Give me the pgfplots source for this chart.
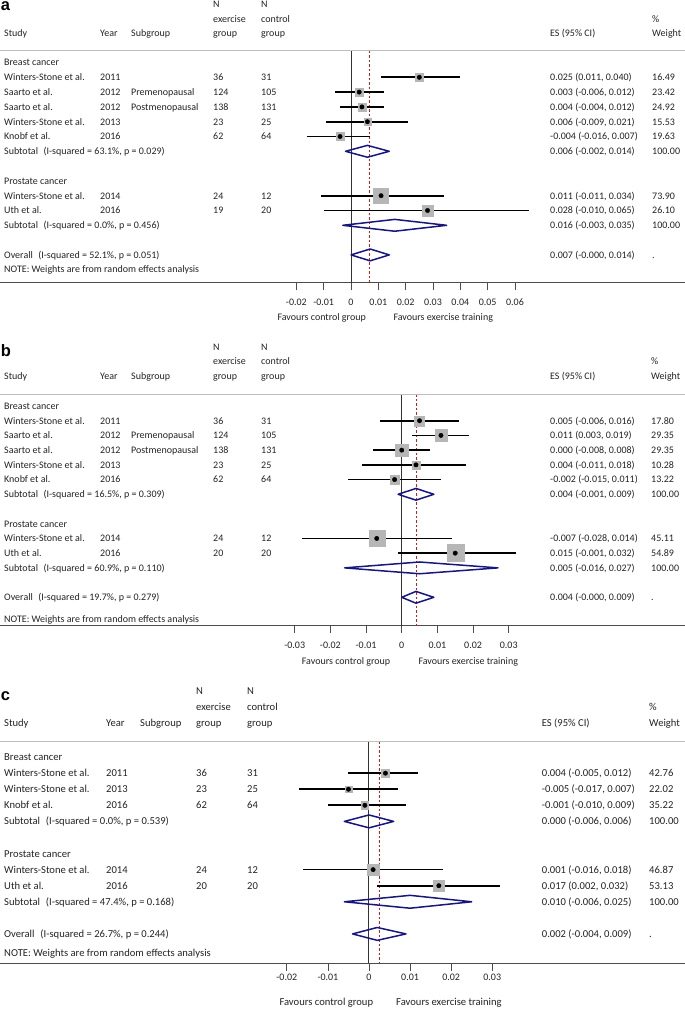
\documentclass[border=0pt]{standalone}
\usepackage{fontspec}
\setmainfont{Carlito}
\newfontfamily\labfont{Liberation Sans}
\usepackage{pgfplots}
\usepackage{pgfplotstable}
\pgfplotsset{compat=1.18}
\definecolor{boxgray}{RGB}{182,182,182}
\definecolor{dnavy}{RGB}{22,22,125}
\definecolor{dred}{RGB}{200,30,30}
\definecolor{txt}{RGB}{35,35,35}

% ---------- data: panel a ----------
\pgfplotstableread{
row est lo hi box
1 0.025 0.011 0.040 7.3
2 0.003 -0.006 0.012 7.7
3 0.004 -0.004 0.012 7.7
4 0.006 -0.009 0.021 7
5 -0.004 -0.016 0.007 8
9 0.011 -0.011 0.034 15
10 0.028 -0.010 0.065 10.5
}\studA
% ---------- data: panel b ----------
\pgfplotstableread{
row est lo hi box
1 0.005 -0.006 0.016 10
2 0.011 0.003 0.019 12
3 0.000 -0.008 0.008 12.5
4 0.004 -0.011 0.018 8
5 -0.002 -0.015 0.011 9
9 -0.007 -0.028 0.014 16
10 0.015 -0.001 0.032 17
}\studB
% ---------- data: panel c ----------
\pgfplotstableread{
row est lo hi box
1 0.004 -0.005 0.012 8.5
2 -0.005 -0.017 0.007 6.5
3 -0.001 -0.010 0.009 7.5
7 0.001 -0.016 0.018 11.5
8 0.017 0.002 0.032 11
}\studC

\pgfplotsset{
  forest/.style={
    scale only axis, width=685pt, anchor=north west, clip=false,
    axis x line=bottom, axis y line=none,
    axis line style={-, line width=1pt, draw=black!70},
    ytick=\empty, scaled x ticks=false,
    tick align=outside, major tick length=7.5pt,
    tick style={black!70, line width=0.8pt},
    xticklabel style={font=\fontsize{10}{12}\selectfont, text=txt, anchor=base},
  },
  boxes/.style={scatter, only marks, mark=square*,
    scatter/use mapped color={draw=boxgray, fill=boxgray},
    visualization depends on={\thisrow{box}/2 \as \hs},
    scatter/@pre marker code/.append style={/tikz/mark size=\hs}},
  cis/.style={black, line width=1.7pt, -, mark=none,
    quiver={u=\thisrow{hi}-\thisrow{lo}, v=0}},
  dots/.style={black, only marks, mark=*, mark size=2.2pt},
  dia/.style={dnavy, line width=1.5pt, line join=round, line cap=round, mark=none},
  zeroline/.style={black!80, line width=1pt, mark=none},
  redline/.style={dred, line width=1pt, dash pattern=on 2.5pt off 2pt, mark=none},
}

\newcommand{\Row}[8]{%
  \node[T] at (\cS,-#1) {#2};%
  \node[T] at (\cY,-#1) {#3};%
  \node[T] at (\cG,-#1) {#4};%
  \node[T] at (\cE,-#1) {#5};%
  \node[T] at (\cC,-#1) {#6};%
  \node[T] at (\cES,-#1) {#7};%
  \node[T] at (\cW,-#1) {#8};}
\newcommand{\Sub}[4]{%
  \node[T] at (\cS,-#1) {#2};%
  \node[T] at (\cES,-#1) {#3};%
  \node[T] at (\cW,-#1) {#4};}
\newcommand{\Head}[3]{%
  \node[T] at (\cE,-#1) {N};\node[T] at (\cC,-#1) {N};%
  \node[T] at (\cE,-#2) {exercise};\node[T] at (\cC,-#2) {control};\node[T] at (\cW,-#2) {\%};%
  \node[T] at (\cS,-#3) {Study};\node[T] at (\cY,-#3) {Year};\node[T] at (\cG,-#3) {Subgroup};%
  \node[T] at (\cE,-#3) {group};\node[T] at (\cC,-#3) {group};%
  \node[T] at (\cES,-#3) {ES (95\% CI)};\node[T] at (\cW,-#3) {Weight};}
\newcommand{\SubT}[3]{Subtotal\hspace{0.55em}(I-squared = #1\%, p = #2)}

\begin{document}
\begin{tikzpicture}[x=1pt,y=1pt,
  T/.style={anchor=base west, inner sep=0pt, text=txt, font=\fontsize{\fs}{12}\selectfont}]
\useasboundingbox (0,0) rectangle (685,-1009);

% ================= PANEL A =================
\begin{axis}[forest, at={(0pt,-50.5pt)}, height=232.2pt,
  xmin=-0.12843, xmax=0.12221, ymin=-14.878, ymax=0.8108,
  xtick={-0.02,-0.01,0,0.01,0.02,0.03,0.04,0.05,0.06},
  xticklabels={-0.02,-0.01,0,0.01,0.02,0.03,0.04,0.05,0.06},
  xticklabel style={yshift=-14.8pt}]
\addplot[zeroline] coordinates {(0,0.8108) (0,-14.878)};
\addplot[redline] coordinates {(0.0069,0.8108) (0.0069,-14.878)};
\addplot[boxes] table[x=est, y expr=-\thisrow{row}] {\studA};
\addplot[cis] table[x=lo, y expr=-\thisrow{row}] {\studA};
\addplot[dots] table[x=est, y expr=-\thisrow{row}] {\studA};
\addplot[dia] coordinates {(-0.002,-6) (0.006,-5.6) (0.014,-6) (0.006,-6.4) (-0.002,-6)};
\addplot[dia] coordinates {(-0.003,-11) (0.016,-10.6) (0.035,-11) (0.016,-11.4) (-0.003,-11)};
\addplot[dia] coordinates {(0.000,-13) (0.007,-12.6) (0.014,-13) (0.007,-13.4) (0.000,-13)};
\end{axis}
\draw[black!25, line width=0.8pt] (0,-50.5) -- (685,-50.5);
\def\fs{10}\def\cS{4}\def\cY{100}\def\cG{131}\def\cE{213}\def\cC{261}\def\cES{550}\def\cW{652}
\node[anchor=base west, inner sep=0pt, font=\labfont\bfseries\fontsize{16.5}{18}\selectfont] at (0.8,-10.8) {a};
\Head{7.7}{22}{36.8}
\node[T] at (\cS,-65.8) {Breast cancer};
\Row{80.6}{Winters-Stone et al.}{2011}{}{36}{31}{0.025 (0.011, 0.040)}{16.49}
\Row{95.4}{Saarto et al.}{2012}{Premenopausal}{124}{105}{0.003 (-0.006, 0.012)}{23.42}
\Row{110.2}{Saarto et al.}{2012}{Postmenopausal}{138}{131}{0.004 (-0.004, 0.012)}{24.92}
\Row{125.0}{Winters-Stone et al.}{2013}{}{23}{25}{0.006 (-0.009, 0.021)}{15.53}
\Row{139.8}{Knobf et al.}{2016}{}{62}{64}{-0.004 (-0.016, 0.007)}{19.63}
\Sub{154.6}{\SubT{63.1}{0.029}{}}{0.006 (-0.002, 0.014)}{100.00}
\node[T] at (\cS,-184.2) {Prostate cancer};
\Row{199.0}{Winters-Stone et al.}{2014}{}{24}{12}{0.011 (-0.011, 0.034)}{73.90}
\Row{213.8}{Uth et al.}{2016}{}{19}{20}{0.028 (-0.010, 0.065)}{26.10}
\Sub{228.6}{\SubT{0.0}{0.456}{}}{0.016 (-0.003, 0.035)}{100.00}
\Sub{258.2}{Overall\hspace{0.55em}(I-squared = 52.1\%, p = 0.051)}{0.007 (-0.000, 0.014)}{.}
\node[T] at (\cS,-272.6) {NOTE: Weights are from random effects analysis};
\node[T] at (277.3,-320) {Favours control group};
\node[T] at (393.3,-320) {Favours exercise training};

% ================= PANEL B =================
\begin{axis}[forest, at={(0pt,-394pt)}, height=231.7pt,
  xmin=-0.11262, xmax=0.07942, ymin=-14.93, ymax=0.815,
  xtick={-0.03,-0.02,-0.01,0,0.01,0.02,0.03},
  xticklabels={-0.03,-0.02,-0.01,0,0.01,0.02,0.03},
  xticklabel style={yshift=-15.1pt}]
\addplot[zeroline] coordinates {(0,0.815) (0,-14.93)};
\addplot[redline] coordinates {(0.0042,0.815) (0.0042,-14.93)};
\addplot[boxes] table[x=est, y expr=-\thisrow{row}] {\studB};
\addplot[cis] table[x=lo, y expr=-\thisrow{row}] {\studB};
\addplot[dots] table[x=est, y expr=-\thisrow{row}] {\studB};
\addplot[dia] coordinates {(-0.001,-6) (0.004,-5.6) (0.009,-6) (0.004,-6.4) (-0.001,-6)};
\addplot[dia] coordinates {(-0.016,-11) (0.005,-10.6) (0.027,-11) (0.005,-11.4) (-0.016,-11)};
\addplot[dia] coordinates {(0.000,-13) (0.004,-12.6) (0.009,-13) (0.004,-13.4) (0.000,-13)};
\end{axis}
\draw[black!25, line width=0.8pt] (0,-394) -- (685,-394);
\def\fs{10}\def\cS{4}\def\cY{100}\def\cG{131}\def\cE{213}\def\cC{261}\def\cES{550}\def\cW{651}
\node[anchor=base west, inner sep=0pt, font=\labfont\bfseries\fontsize{16.5}{18}\selectfont] at (0.8,-356) {b};
\Head{350}{364.7}{379.4}
\node[T] at (\cS,-409.3) {Breast cancer};
\Row{424.0}{Winters-Stone et al.}{2011}{}{36}{31}{0.005 (-0.006, 0.016)}{17.80}
\Row{438.7}{Saarto et al.}{2012}{Premenopausal}{124}{105}{0.011 (0.003, 0.019)}{29.35}
\Row{453.5}{Saarto et al.}{2012}{Postmenopausal}{138}{131}{0.000 (-0.008, 0.008)}{29.35}
\Row{468.2}{Winters-Stone et al.}{2013}{}{23}{25}{0.004 (-0.011, 0.018)}{10.28}
\Row{482.9}{Knobf et al.}{2016}{}{62}{64}{-0.002 (-0.015, 0.011)}{13.22}
\Sub{497.6}{\SubT{16.5}{0.309}{}}{0.004 (-0.001, 0.009)}{100.00}
\node[T] at (\cS,-527.1) {Prostate cancer};
\Row{541.8}{Winters-Stone et al.}{2014}{}{24}{12}{-0.007 (-0.028, 0.014)}{45.11}
\Row{556.5}{Uth et al.}{2016}{}{20}{20}{0.015 (-0.001, 0.032)}{54.89}
\Sub{571.2}{\SubT{60.9}{0.110}{}}{0.005 (-0.016, 0.027)}{100.00}
\Sub{600.7}{Overall\hspace{0.55em}(I-squared = 19.7\%, p = 0.279)}{0.004 (-0.000, 0.009)}{.}
\node[T] at (\cS,-622.3) {NOTE: Weights are from random effects analysis};
\node[T] at (301.7,-664.3) {Favours control group};
\node[T] at (418.3,-664.3) {Favours exercise training};

% ================= PANEL C =================
\begin{axis}[forest, at={(0pt,-741pt)}, height=222pt,
  xmin=-0.08982, xmax=0.07692, ymin=-12.81, ymax=1.002,
  xtick={-0.02,-0.01,0,0.01,0.02,0.03},
  xticklabels={-0.02,-0.01,0,0.01,0.02,0.03},
  xticklabel style={yshift=-9.7pt}]
\addplot[zeroline] coordinates {(0,1.002) (0,-12.81)};
\addplot[redline] coordinates {(0.0025,1.002) (0.0025,-12.81)};
\addplot[boxes] table[x=est, y expr=-\thisrow{row}] {\studC};
\addplot[cis] table[x=lo, y expr=-\thisrow{row}] {\studC};
\addplot[dots] table[x=est, y expr=-\thisrow{row}] {\studC};
\addplot[dia] coordinates {(-0.006,-4) (0.000,-3.6) (0.006,-4) (0.000,-4.4) (-0.006,-4)};
\addplot[dia] coordinates {(-0.006,-9) (0.010,-8.6) (0.025,-9) (0.010,-9.4) (-0.006,-9)};
\addplot[dia] coordinates {(-0.004,-11) (0.002,-10.6) (0.009,-11) (0.002,-11.4) (-0.004,-11)};
\end{axis}
\draw[black!25, line width=0.8pt] (0,-741) -- (685,-741);
\def\fs{10.6}\def\cS{4}\def\cY{106}\def\cG{140}\def\cE{196}\def\cC{247}\def\cES{541.7}\def\cW{649}
\node[anchor=base west, inner sep=0pt, font=\labfont\bfseries\fontsize{16.5}{18}\selectfont] at (0.8,-700.7) {c};
\Head{694}{710}{726}
\node[T] at (\cS,-760.6) {Breast cancer};
\Row{776.7}{Winters-Stone et al.}{2011}{}{36}{31}{0.004 (-0.005, 0.012)}{42.76}
\Row{792.7}{Winters-Stone et al.}{2013}{}{23}{25}{-0.005 (-0.017, 0.007)}{22.02}
\Row{808.8}{Knobf et al.}{2016}{}{62}{64}{-0.001 (-0.010, 0.009)}{35.22}
\Sub{824.9}{\SubT{0.0}{0.539}{}}{0.000 (-0.006, 0.006)}{100.00}
\node[T] at (\cS,-857.0) {Prostate cancer};
\Row{873.1}{Winters-Stone et al.}{2014}{}{24}{12}{0.001 (-0.016, 0.018)}{46.87}
\Row{889.2}{Uth et al.}{2016}{}{20}{20}{0.017 (0.002, 0.032)}{53.13}
\Sub{905.2}{\SubT{47.4}{0.168}{}}{0.010 (-0.006, 0.025)}{100.00}
\Sub{937.4}{Overall\hspace{0.55em}(I-squared = 26.7\%, p = 0.244)}{0.002 (-0.004, 0.009)}{.}
\node[T] at (\cS,-956.8) {NOTE: Weights are from random effects analysis};
\node[T] at (279.3,-1005.5) {Favours control group};
\node[T] at (396,-1005.5) {Favours exercise training};
\end{tikzpicture}
\end{document}
